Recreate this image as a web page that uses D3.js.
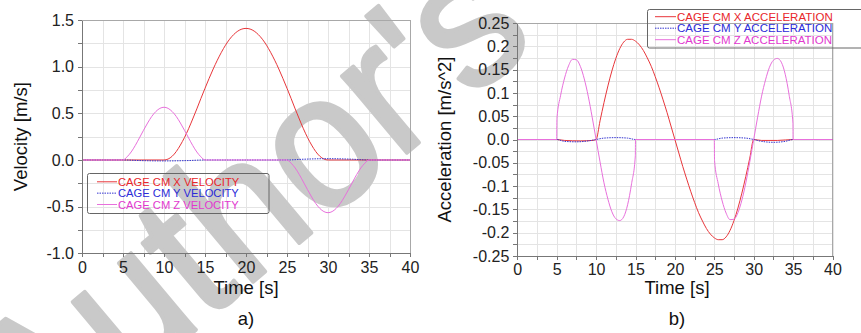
<!DOCTYPE html>
<html>
<head>
<meta charset="utf-8">
<style>
body { margin: 0; background: #fff; font-family: "Liberation Sans", Arial, sans-serif; }
text { font-family: "Liberation Sans", Arial, sans-serif; }
.grid line { stroke: #e4e4e4; stroke-width: 1px; shape-rendering: crispEdges; }
.frame { fill: none; stroke: #a8a8a8; stroke-width: 1px; shape-rendering: crispEdges; }
.axis path, .axis line { stroke: #777; shape-rendering: crispEdges; }
.axis text { font-size: 16px; fill: #222; }
.title { font-size: 18.5px; fill: #111; }
.series { fill: none; stroke-width: 1px; }
.legend-box { fill: none; stroke: #666; stroke-width: 1px; }
.watermark { fill: #c9c9c9; stroke: #c9c9c9; stroke-width: 4px; stroke-linejoin: round; }
</style>
</head>
<body>
<svg id="chart" width="861" height="333"></svg>
<script src="https://d3js.org/d3.v7.min.js"></script>
<script>

// ---- data ----
var timeTicks = [0, 5, 10, 15, 20, 25, 30, 35, 40];

// a) velocities [m/s]
var velXTime = [0, 5, 10, 10.5, 11, 11.5, 12, 12.5, 13, 13.5, 14, 14.5, 15, 15.5, 16, 16.5, 17, 17.5, 18, 18.5, 19, 19.5,
                20, 20.5, 21, 21.5, 22, 22.5, 23, 23.5, 24, 24.5, 25, 25.5, 26, 26.5, 27, 27.5, 28, 28.5, 29, 29.5, 30, 35, 40];
var velX = [0, 0, 0, 0.010, 0.040, 0.091, 0.160, 0.241, 0.335, 0.439, 0.547, 0.659, 0.768, 0.874, 0.975, 1.069, 1.154, 1.230, 1.294, 1.344, 1.381, 1.403,
            1.410, 1.403, 1.381, 1.344, 1.294, 1.230, 1.154, 1.069, 0.975, 0.874, 0.768, 0.659, 0.547, 0.439, 0.335, 0.241, 0.160, 0.091, 0.040, 0.010, 0, 0, 0];

var velYTime = [0, 5, 7, 10, 13, 15, 20, 25, 27, 30, 33, 35, 40];
var velY = [0, 0, -0.006, -0.010, -0.006, 0, 0, 0, 0.008, 0.014, 0.008, 0, 0];

var velZTime = [0, 5, 5.5, 6, 6.5, 7, 7.5, 8, 8.5, 9, 9.5, 10, 10.5, 11, 11.5, 12, 12.5, 13, 13.5, 14, 14.5, 15,
                25, 25.5, 26, 26.5, 27, 27.5, 28, 28.5, 29, 29.5, 30, 30.5, 31, 31.5, 32, 32.5, 33, 33.5, 34, 34.5, 35, 40];
var velZ = [0, 0, 0.034, 0.086, 0.156, 0.236, 0.318, 0.396, 0.466, 0.519, 0.553, 0.565, 0.553, 0.519, 0.466, 0.396, 0.318, 0.236, 0.156, 0.086, 0.034, 0,
            0, -0.034, -0.086, -0.156, -0.236, -0.318, -0.396, -0.466, -0.519, -0.553, -0.565, -0.553, -0.519, -0.466, -0.396, -0.318, -0.236, -0.156, -0.086, -0.034, 0, 0];

var velGrid = [-1, -0.75, -0.5, -0.25, 0, 0.25, 0.5, 0.75, 1, 1.25, 1.5];
var velLabels = {"-1": "-1.0", "-0.5": "-0.5", "0": "0.0", "0.5": "0.5", "1": "1.0", "1.5": "1.5"};

// b) accelerations [m/s^2]
var accXTime = [0, 5, 6, 8, 9.5, 10, 10.5, 11, 11.5, 12, 12.5, 13, 13.5, 14, 14.5, 15, 15.5, 16, 16.5, 17, 17.5, 18, 18.5, 19, 19.5,
                20, 20.5, 21, 21.5, 22, 22.5, 23, 23.5, 24, 24.5, 25, 25.5, 26, 26.5, 27, 27.5, 28, 28.5, 29, 29.5, 30, 31, 33, 35, 40];
var accX = [0, 0, -0.002, -0.003, -0.002, 0, 0.040, 0.079, 0.115, 0.147, 0.174, 0.195, 0.209, 0.215, 0.215, 0.211, 0.203, 0.191, 0.175, 0.157, 0.135, 0.111, 0.085, 0.058, 0.029,
            0, -0.029, -0.058, -0.085, -0.111, -0.135, -0.157, -0.175, -0.191, -0.203, -0.211, -0.215, -0.215, -0.209, -0.195, -0.174, -0.147, -0.115, -0.079, -0.040, 0, -0.002, -0.002, 0, 0];

var accYTime = [0, 5, 6, 7.5, 9, 10, 11, 12.5, 14, 15, 25, 26, 27.5, 29, 30, 31, 32.5, 34, 35, 40];
var accY = [0, 0, -0.004, -0.005, -0.003, 0, 0.003, 0.004, 0.003, 0, 0, 0.003, 0.004, 0.003, 0, -0.004, -0.006, -0.004, 0, 0];

var accZTime = [0, 5, 5.03, 5.5, 6, 6.5, 7, 7.5, 8, 8.5, 9, 9.5, 10, 10.5, 11, 11.5, 12, 12.5, 13, 13.5, 14, 14.5, 14.98, 15,
                25, 25.03, 25.5, 26, 26.5, 27, 27.5, 28, 28.5, 29, 29.5, 30, 30.5, 31, 31.5, 32, 32.5, 33, 33.5, 34, 34.5, 34.98, 35, 40];
var accZ = [0, 0, 0.045, 0.095, 0.132, 0.158, 0.172, 0.171, 0.157, 0.130, 0.093, 0.048, 0, -0.048, -0.093, -0.128, -0.155, -0.170, -0.174, -0.166, -0.140, -0.095, -0.035, 0,
            0, -0.045, -0.095, -0.132, -0.158, -0.172, -0.171, -0.157, -0.130, -0.093, -0.048, 0, 0.048, 0.093, 0.128, 0.155, 0.170, 0.174, 0.166, 0.140, 0.095, 0.035, 0, 0];

var accGrid = d3.range(-10, 11).map(function(i) { return i * 0.025; });
var accLabels = {"-10": "-0.25", "-8": "-0.2", "-6": "-0.15", "-4": "-0.1", "-2": "-0.05", "0": "0.0",
                 "2": "0.05", "4": "0.1", "6": "0.15", "8": "0.2", "10": "0.25"};

var colors = { x: "#e8262b", y: "#2b2bd8", z: "#e238cf" };
var lineColors = { x: "#e8363a", y: "#3434d0", z: "#e870dc" };

var svg = d3.select("#chart");
var gridLayer = svg.append("g").attr("class", "grid");
var markLayer = svg.append("g");
var plotLayer = svg.append("g");

function drawPanel(p) {
  var x = d3.scaleLinear().domain([0, 40]).range([p.left, p.right]);
  var y = d3.scaleLinear().domain(p.yDomain).range([p.bottom, p.top]);
  var xGrid = d3.range(0, 40.1, 2.5);

  // grid lines
  gridLayer.append("g").selectAll("line").data(xGrid).enter().append("line")
      .attr("x1", function(d) { return Math.round(x(d)) + 0.5; })
      .attr("x2", function(d) { return Math.round(x(d)) + 0.5; })
      .attr("y1", p.top).attr("y2", p.bottom);
  gridLayer.append("g").selectAll("line").data(p.yGrid).enter().append("line")
      .attr("y1", function(d) { return Math.round(y(d)) + 0.5; })
      .attr("y2", function(d) { return Math.round(y(d)) + 0.5; })
      .attr("x1", p.left).attr("x2", p.right);

  // plot frame
  plotLayer.append("rect").attr("class", "frame")
      .attr("x", p.left).attr("y", p.top)
      .attr("width", p.right - p.left).attr("height", p.bottom - p.top);

  // series
  var line = d3.line()
      .x(function(d) { return x(d[0]); })
      .y(function(d) { return y(d[1]); })
      .curve(d3.curveMonotoneX);
  p.series.forEach(function(s) {
    plotLayer.append("path")
        .datum(d3.zip(s.time, s.values))
        .attr("class", "series")
        .attr("stroke", lineColors[s.key])
        .attr("stroke-dasharray", s.key == "y" ? "1.5,1" : null)
        .attr("d", line);
  });

  // axes
  plotLayer.append("g").attr("class", "axis")
      .attr("transform", "translate(0," + p.bottom + ")")
      .call(d3.axisBottom(x).tickValues(xGrid).tickSize(4).tickSizeOuter(0).tickPadding(4)
        .tickFormat(function(d) { return timeTicks.indexOf(d) >= 0 ? d : ""; }));
  plotLayer.append("g").attr("class", "axis")
      .attr("transform", "translate(" + p.left + ",0)")
      .call(d3.axisLeft(y).tickValues(p.yGrid).tickSize(4).tickSizeOuter(0).tickPadding(4)
        .tickFormat(p.label));

  // titles
  plotLayer.append("text").attr("class", "title")
      .attr("transform", "translate(" + p.yTitleX + "," + ((p.top + p.bottom) / 2) + ") rotate(-90)")
      .attr("text-anchor", "middle").text(p.yTitle);
  plotLayer.append("text").attr("class", "title")
      .attr("x", p.centerX).attr("y", 294).attr("text-anchor", "middle").text("Time [s]");
  plotLayer.append("text").attr("class", "title")
      .attr("x", p.centerX).attr("y", 325).attr("text-anchor", "middle").text(p.tag);

  // legend
  var L = p.legend;
  plotLayer.append("rect").attr("class", "legend-box")
      .attr("x", L.x).attr("y", L.y).attr("width", L.w).attr("height", L.h).attr("rx", 2);
  p.series.forEach(function(s, i) {
    var ly = L.y + L.first + i * L.gap;
    plotLayer.append("line")
        .attr("x1", L.lineX).attr("x2", L.lineX + L.lineW)
        .attr("y1", ly).attr("y2", ly)
        .attr("stroke", lineColors[s.key]).attr("stroke-width", 1)
        .attr("stroke-dasharray", s.key == "y" ? "1.5,1" : null);
    plotLayer.append("text")
        .attr("x", L.lineX + L.lineW + 1).attr("y", ly + 4)
        .attr("fill", colors[s.key]).style("font-size", L.font + "px")
        .text(s.name);
  });
}

drawPanel({
  left: 82, right: 410, top: 20, bottom: 253.3,
  yDomain: [-1, 1.5], yGrid: velGrid,
  label: function(d) { return velLabels[String(d)] || ""; },
  yTitle: "Velocity [m/s]", yTitleX: 27, centerX: 246, tag: "a)",
  series: [
    {key: "x", name: "CAGE CM X VELOCITY", time: velXTime, values: velX},
    {key: "y", name: "CAGE CM Y VELOCITY", time: velYTime, values: velY},
    {key: "z", name: "CAGE CM Z VELOCITY", time: velZTime, values: velZ}
  ],
  legend: {x: 87.5, y: 173.5, w: 181.5, h: 40, first: 8.3, gap: 11.35, lineX: 97, lineW: 20, font: 11.2}
});

drawPanel({
  left: 517.3, right: 832.5, top: 23, bottom: 256,
  yDomain: [-0.25, 0.25], yGrid: accGrid,
  label: function(d) { return accLabels[String(Math.round(d / 0.025))] || ""; },
  yTitle: "Acceleration [m/s^2]", yTitleX: 450.5, centerX: 677, tag: "b)",
  series: [
    {key: "x", name: "CAGE CM X ACCELERATION", time: accXTime, values: accX},
    {key: "y", name: "CAGE CM Y ACCELERATION", time: accYTime, values: accY},
    {key: "z", name: "CAGE CM Z ACCELERATION", time: accZTime, values: accZ}
  ],
  legend: {x: 647.5, y: 9.5, w: 230, h: 38.5, first: 7.2, gap: 11.5, lineX: 655, lineW: 21, font: 11.5}
});

// watermark of the source figure
markLayer.append("text").attr("class", "watermark")
    .attr("transform", "translate(36,464) rotate(-40) scale(0.95,1)")
    .style("font-size", "190px")
    .text("Author's");

</script>
</body>
</html>
